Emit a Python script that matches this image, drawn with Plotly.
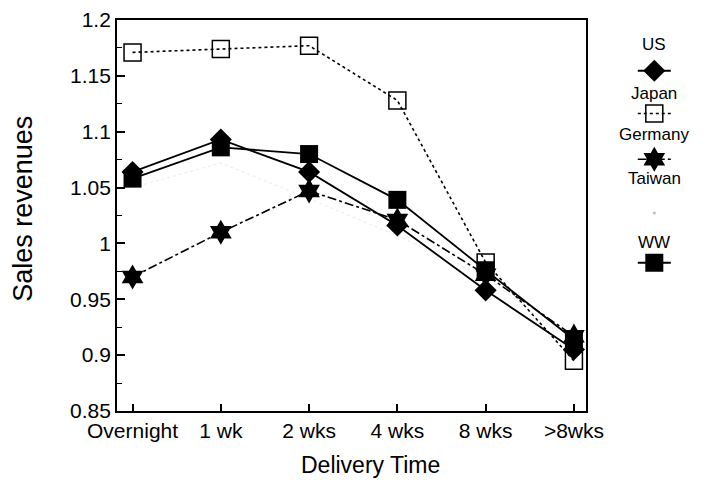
import plotly.graph_objects as go

categories = ["Overnight", "1 wk", "2 wks", "4 wks", "8 wks", ">8wks"]
us = [1.064, 1.093, 1.064, 1.016, 0.958, 0.905]
japan = [1.171, 1.174, 1.177, 1.128, 0.983, 0.895]
germany = [0.970, 1.010, 1.047, 1.021, 0.972, 0.917]
taiwan = [1.050, 1.072, 1.040, 1.007, 0.970, 0.910]
ww = [1.058, 1.086, 1.080, 1.039, 0.976, 0.914]
y_ticks = [0.85, 0.9, 0.95, 1.0, 1.05, 1.1, 1.15, 1.2]
y_tick_labels = ["0.85", "0.9", "0.95", "1", "1.05", "1.1", "1.15", "1.2"]
legend_names = ["US", "Japan", "Germany", "Taiwan", "WW"]

FONT = "Liberation Sans, Arial, sans-serif"
fig = go.Figure()

styles = {
    "US": dict(line=dict(color="black", width=1.8, dash="solid"),
               marker=dict(symbol="diamond", size=17, color="black")),
    "Japan": dict(line=dict(color="black", width=1.6, dash="dot"),
                  marker=dict(symbol="square-open", size=17, color="black", line=dict(width=1.5))),
    "Germany": dict(line=dict(color="black", width=1.6, dash="dashdot"),
                    marker=dict(symbol="hexagram", size=19, color="black")),
    "Taiwan": dict(line=dict(color="#eeeeee", width=1.2, dash="dot"),
                   marker=dict(symbol="circle", size=3, color="#bbbbbb")),
    "WW": dict(line=dict(color="black", width=1.8, dash="solid"),
               marker=dict(symbol="square", size=18, color="black")),
}
series = {"US": us, "Japan": japan, "Germany": germany, "Taiwan": taiwan, "WW": ww}

for name in ["Taiwan", "Japan", "Germany", "US", "WW"]:
    st = styles[name]
    fig.add_trace(go.Scatter(x=categories, y=series[name],
                             mode="lines" if name == "Taiwan" else "lines+markers",
                             name=name, showlegend=False, cliponaxis=False,
                             line=st["line"], marker=st["marker"]))

# legend samples drawn on a helper axis whose units are reference-image pixels
legend_label_y = [43, 92, 133, 177, 242]
legend_sample_y = [69, 112, 158, 212, 262]
for name, sy in zip(legend_names, legend_sample_y):
    st = styles[name]
    if name == "Taiwan":
        fig.add_trace(go.Scatter(x=[670], y=[sy], mode="markers", marker=st["marker"],
                                 xaxis="x2", yaxis="y2", showlegend=False, hoverinfo="skip"))
        continue
    fig.add_trace(go.Scatter(x=[653, 687], y=[sy, sy], mode="lines", line=st["line"],
                             xaxis="x2", yaxis="y2", showlegend=False, hoverinfo="skip"))
    fig.add_trace(go.Scatter(x=[670], y=[sy], mode="markers", marker=st["marker"],
                             xaxis="x2", yaxis="y2", showlegend=False, hoverinfo="skip"))
for name, ly in zip(legend_names, legend_label_y):
    fig.add_annotation(x=670, y=ly, xref="x2", yref="y2", text=name, showarrow=False,
                       xanchor="center", yanchor="middle",
                       font=dict(family=FONT, size=17, color="black"))

# axis titles
fig.add_annotation(x=(20 - 117) / 599, y=(411 - 208) / 393, xref="paper", yref="paper",
                   text="Sales revenues", textangle=-90, showarrow=False,
                   xanchor="center", yanchor="middle",
                   font=dict(family=FONT, size=27, color="black"))
fig.add_annotation(x=(378 - 117) / 599, y=(411 - 465) / 393, xref="paper", yref="paper",
                   text="Delivery Time", showarrow=False,
                   xanchor="center", yanchor="middle",
                   font=dict(family=FONT, size=23, color="black"))

fig.update_layout(
    width=708, height=472,
    margin=dict(l=109, r=0, t=10, b=69),
    paper_bgcolor="white", plot_bgcolor="white",
    font=dict(family=FONT, color="black"),
    xaxis=dict(domain=[0, 483 / 599], type="category", range=[-0.176, 5.14],
               showline=True, linecolor="black", linewidth=1.8, mirror=True,
               ticks="inside", ticklen=7, tickwidth=1.5, tickcolor="black",
               showgrid=False, zeroline=False, ticklabeloverflow="allow",
               tickfont=dict(family=FONT, size=21)),
    yaxis=dict(range=[0.85, 1.2], tickvals=y_ticks, ticktext=y_tick_labels,
               showline=True, linecolor="black", linewidth=1.8, mirror=True,
               ticks="inside", ticklen=8, tickwidth=1.5, tickcolor="black",
               minor=dict(dtick=0.025, tick0=0.85, ticks="inside", ticklen=5, tickcolor="black", tickwidth=1.2),
               showgrid=False, zeroline=False, ticklabeloverflow="allow",
               tickfont=dict(family=FONT, size=21)),
    xaxis2=dict(domain=[483 / 599, 1.0], range=[600, 716], visible=False, fixedrange=True),
    yaxis2=dict(domain=[0, 1], range=[411, 18], visible=False, anchor="x2", fixedrange=True),
)

fig.write_html("out.html")
